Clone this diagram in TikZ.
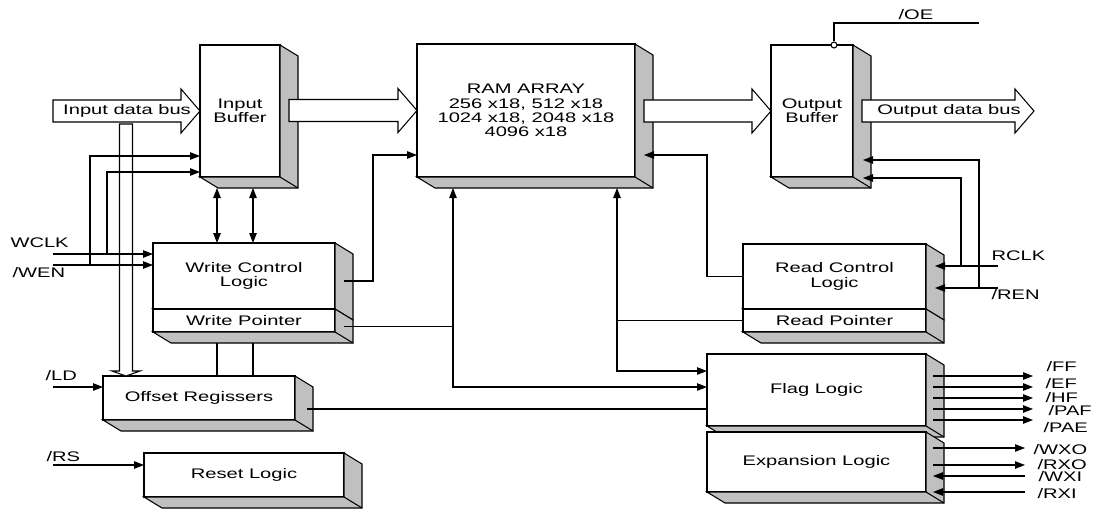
\documentclass[tikz,border=0pt]{standalone}
\usepackage{fontspec}
\setmainfont{Liberation Sans}[FakeStretch=1.45]
\usetikzlibrary{arrows.meta,calc,fit}
\definecolor{sidegray}{RGB}{192,192,192}

\tikzset{
  blk/.style={draw, fill=white, inner sep=0pt, outer sep=0pt},
  txt/.style={align=center, inner sep=0pt},
  sig/.style={-{Triangle[length=0.2cm,width=0.15cm]}},
  sigboth/.style={{Triangle[length=0.2cm,width=0.15cm]}-{Triangle[length=0.2cm,width=0.15cm]}},
  lbl/.style={anchor=west, inner sep=0pt}
}

% gray side and bottom of a block
\newcommand\blockside[1]{%
  \filldraw[fill=sidegray] (#1.north east) -- ++(18,11) -- ($(#1.south east)+(18,11)$)
    -- ($(#1.south west)+(18,11)$) -- (#1.south west) -- (#1.south east) -- cycle;
  \draw (#1.south east) -- ++(18,11);}

% wide hollow bus arrow
\newcommand\busarrow[2]{%
  \filldraw[fill=white] let \p1=#1, \p2=#2 in
    ($(\x1,\y2)+(0,-11)$) -- ($(\x2,\y2)+(-19,-11)$) -- ($(\x2,\y2)+(-19,-22)$)
    -- (\x2,\y2) -- ($(\x2,\y2)+(-19,22)$) -- ($(\x2,\y2)+(-19,11)$)
    -- ($(\x1,\y2)+(0,11)$) -- cycle;}

\begin{document}
\begin{tikzpicture}[x=0.02cm, y=-0.02cm, line width=0.6pt,
    font=\fontsize{7.9}{8.1}\selectfont]
    \useasboundingbox (0,0) rectangle (1096,508);

    % blocks
    \node[blk, fit={(200,45) (280,177)}] (ib) {};
    \blockside{ib}
    \node[blk, fit={(417,44) (635,177)}] (ram) {};
    \blockside{ram}
    \node[blk, fit={(771,45) (853,177)}] (ob) {};
    \blockside{ob}
    \node[blk, fit={(153,243) (335,309)}] (wcl) {};
    \blockside{wcl}
    \node[blk, fit={(153,309) (335,332)}] (wp) {};
    \blockside{wp}
    \node[blk, fit={(743,244) (926,309)}] (rcl) {};
    \blockside{rcl}
    \node[blk, fit={(743,309) (926,332)}] (rp) {};
    \blockside{rp}
    \node[blk, fit={(103,376) (295,420)}] (off) {};
    \blockside{off}
    \node[blk, fit={(707,354) (926,426)}] (flag) {};
    \blockside{flag}
    \node[blk, fit={(707,432) (926,492)}] (exp) {};
    \blockside{exp}
    \node[blk, fit={(144,453) (344,497)}] (rst) {};
    \blockside{rst}

    % block texts
    \node[txt] (ibtxt) at (ib) {Input\\Buffer};
    \node[txt] (ramtxt) at (ram) {RAM ARRAY\\256 x18, 512 x18\\1024 x18, 2048 x18\\4096 x18};
    \node[txt] (obtxt) at (ob) {Output\\Buffer};
    \node[txt] (wcltxt) at (wcl) {Write Control\\Logic};
    \node[txt] (wptxt) at (wp) {Write Pointer};
    \node[txt] (rcltxt) at (rcl) {Read Control\\Logic};
    \node[txt] (rptxt) at (rp) {Read Pointer};
    \node[txt] (offtxt) at (off) {Offset Regissers};
    \node[txt] (flagtxt) at (flag) {Flag Logic};
    \node[txt] (exptxt) at (exp) {Expansion Logic};
    \node[txt] (rsttxt) at (rst) {Reset Logic};

    % data buses
    \coordinate (inbus) at (53,111);
    \coordinate (outbus) at (1034,111);
    \busarrow{(inbus)}{(ib.west)}
    \busarrow{($(ib.east)+(9,0)$)}{(ram.west)}
    \busarrow{($(ram.east)+(9,0)$)}{(ob.west)}
    \busarrow{($(ob.east)+(9,0)$)}{(outbus)}
    \node (inbustxt) at (127,111) {Input data bus};
    \node (outbustxt) at (949,111) {Output data bus};

    \coordinate (vbus) at (126,124);
    \filldraw[fill=white] ($(vbus)+(-6.5,0)$) -- ($(vbus |- off.north)+(-6.5,-5)$)
      -- ($(vbus |- off.north)+(-14,-5)$) -- (vbus |- off.north)
      -- ($(vbus |- off.north)+(14,-5)$) -- ($(vbus |- off.north)+(6.5,-5)$)
      -- ($(vbus)+(6.5,0)$) -- cycle;

    % write side
    \coordinate (wclk) at (53,254);
    \coordinate (wen) at (53,265);
    \coordinate (wclkj) at (107,254);
    \coordinate (wenj) at (90,265);
    \draw[sig] (wclk) -- (wclk -| wcl.west);
    \draw[sig] (wen) -- (wen -| wcl.west);
    \draw[sig] (wclkj) |- ($(ib.south west)+(0,-5)$);
    \draw[sig] (wenj) |- ($(ib.south west)+(0,-21)$);

    \draw[sigboth] ($(ib.south west)+(17,11)$) coordinate (t1) -- (t1 |- wcl.north);
    \draw[sigboth] ($(ib.south west)+(53,11)$) coordinate (t2) -- (t2 |- wcl.north);
    \draw ($(t1 |- wp.south)+(0,11)$) -- (t1 |- off.north);
    \draw ($(t2 |- wp.south)+(0,11)$) -- (t2 |- off.north);

    \coordinate (wbend) at (373,155);
    \draw[sig] ($(wcl.east)+(9,5)$) -| (wbend) -- (wbend -| ram.west);

    \coordinate (wsplit) at (453,387);
    \draw[sigboth] ($(wsplit |- ram.south)+(0,11)$) -- (wsplit) -- (wsplit -| flag.west);
    \draw ($(wp.east)+(9,6)$) coordinate (wpo) -- (wpo -| wsplit);

    % read side
    \coordinate (rsplit) at (617,371);
    \draw[sigboth] ($(rsplit |- ram.south)+(0,11)$) -- (rsplit) -- (rsplit -| flag.west);
    \draw (rp.west) -- (rp.west -| rsplit);

    \coordinate (rbend) at (707,155);
    \draw[sig] (rcl.west) -| (rbend) -- ($(rbend -| ram.east)+(9,0)$);

    \coordinate (rclk) at (998,266);
    \coordinate (ren) at (998,288);
    \coordinate (rclkj) at (961,266);
    \coordinate (renj) at (979,288);
    \draw[sig] (rclk) -- ($(rclk -| rcl.east)+(9,0)$);
    \draw[sig] (ren) -- ($(ren -| rcl.east)+(9,0)$);
    \draw[sig] (rclkj) |- ($(ob.south east)+(10,1)$);
    \draw[sig] (renj) |- ($(ob.south east)+(10,-17)$);

    % output enable
    \node[circle, draw, fill=white, inner sep=0pt, minimum size=0.12cm] (oec) at ($(ob.north east)+(-19,0)$) {};
    \coordinate (oe) at (979,23);
    \draw (oec.north) |- (oe);

    % load, reset, offsets
    \coordinate (ld) at (53,387);
    \coordinate (rs) at (53,465);
    \draw[sig] (ld) -- (ld -| off.west);
    \draw[sig] (rs) -- (rs -| rst.west);
    \draw ($(off.east)+(12,11)$) coordinate (offo) -- (offo -| flag.west);

    % flags and expansion
    \foreach \dy in {-14,-3,8,19,30}
      \draw[sig] ($(flag.east)+(7,\dy)$) -- ++(100,0);
    \foreach \dy in {-14,3}
      \draw[sig] ($(exp.east)+(7,\dy)$) -- ++(92,0);
    \foreach \dy in {14,30}
      \draw[sig] ($(exp.east)+(99,\dy)$) -- ++(-92,0);

    % labels
    \node[lbl] (wclklbl) at (10,243) {WCLK};
    \node[lbl] (wenlbl) at (12,273) {/WEN};
    \node[lbl] (ldlbl) at (45,376) {/LD};
    \node[lbl] (rslbl) at (46,457) {/RS};
    \node[lbl] (oelbl) at (898,15) {/OE};
    \node[lbl] (rclklbl) at (991,256) {RCLK};
    \node[lbl] (renlbl) at (991,295) {/REN};
    \node[lbl] (fflbl) at (1046,367) {/FF};
    \node[lbl] (eflbl) at (1045,384) {/EF};
    \node[lbl] (hflbl) at (1045,398) {/HF};
    \node[lbl] (paflbl) at (1048,411) {/PAF};
    \node[lbl] (paelbl) at (1043,428) {/PAE};
    \node[lbl] (wxolbl) at (1033,450) {/WXO};
    \node[lbl] (rxolbl) at (1037,465) {/RXO};
    \node[lbl] (wxilbl) at (1038,477) {/WXI};
    \node[lbl] (rxilbl) at (1037,494) {/RXI};
\end{tikzpicture}
\end{document}
